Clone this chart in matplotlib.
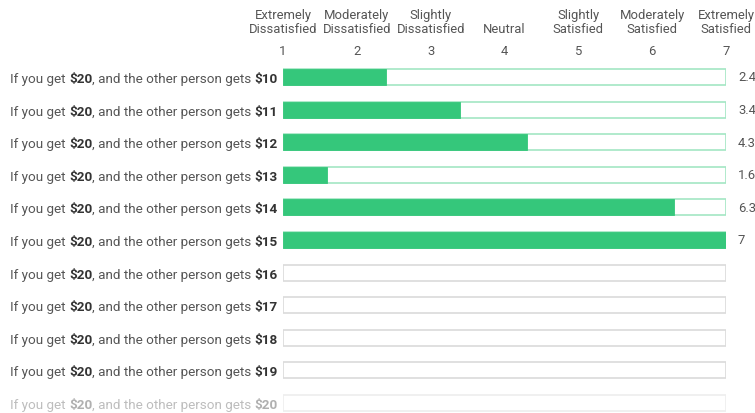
import matplotlib
matplotlib.use("Agg")
import matplotlib.pyplot as plt

# Survey scale and responses
scale_points = [1, 2, 3, 4, 5, 6, 7]
scale_labels = ["Extremely\nDissatisfied", "Moderately\nDissatisfied", "Slightly\nDissatisfied",
                "Neutral", "Slightly\nSatisfied", "Moderately\nSatisfied", "Extremely\nSatisfied"]
your_amount = ["$20"] * 11
other_amount = ["$10", "$11", "$12", "$13", "$14", "$15", "$16", "$17", "$18", "$19", "$20"]
ratings = [2.4, 3.4, 4.3, 1.6, 6.3, 7, None, None, None, None, None]

GREEN = "#35c77b"
GREEN_EDGE = "#a3e6c3"
GREY_EDGE = "#dadada"
TEXT = "#555555"
DARK = "#333333"

plt.rcParams["font.family"] = ["Roboto", "DejaVu Sans"]
fs_row = 9.7
fs_head = 9.4

W, H = 755, 414
fig = plt.figure(figsize=(W / 100, H / 100), dpi=100)
x0_px, x1_px = 283, 726
ax = fig.add_axes([x0_px / W, 0, (x1_px - x0_px) / W, 1])
ax.set_xlim(1, 7)
row0_px, step_px = 78, 32.6
ax.set_ylim((H - row0_px) / step_px, -row0_px / step_px)
ax.axis("off")

px = (7 - 1) / (x1_px - x0_px)   # data units per pixel in x
py = 1 / step_px                 # data units per pixel in y

def xd(p):
    return 1 + (p - x0_px) * px

def yd(p):
    return (p - row0_px) * py

# Header: scale labels and numbers
for v, lab in zip(scale_points, scale_labels):
    ax.text(v, yd(36), lab, ha="center", va="bottom", fontsize=fs_head, color=TEXT,
            linespacing=1.1, multialignment="center", clip_on=False)
    ax.text(v, yd(52), str(v), ha="center", va="center", fontsize=fs_head, color=TEXT, clip_on=False)

bar_h = 16 * py
n = len(other_amount)
for i, (you, other, r) in enumerate(zip(your_amount, other_amount, ratings)):
    faded = i == n - 1
    tcol = "#bdbdbd" if faded else TEXT
    bcol = "#b0b0b0" if faded else DARK
    answered = r is not None
    edge = GREEN_EDGE if answered else ("#eeeeee" if faded else GREY_EDGE)
    # outline of the full scale
    ax.barh(i, 6, left=1, height=bar_h, facecolor="white", edgecolor=edge, linewidth=1.2)
    if answered:
        ax.barh(i, r - 1, left=1, height=bar_h, facecolor=GREEN, edgecolor=GREEN, linewidth=0.6)
        ax.text(xd(738), i, f"{r:g}", ha="left", va="center", fontsize=fs_head, color=TEXT, clip_on=False)
    # row label built from plain and bold pieces
    pieces = [("If you get ", "normal", tcol), (you.replace("$", r"\$"), "bold", bcol),
              (", and the other person gets ", "normal", tcol),
              (other.replace("$", r"\$"), "bold", bcol)]
    prev = ax.text(xd(10), i, pieces[0][0], ha="left", va="center_baseline", fontsize=fs_row,
                   fontweight=pieces[0][1], color=pieces[0][2], clip_on=False)
    for txt, wt, col in pieces[1:]:
        prev = ax.annotate(txt, xy=(1, 0), xycoords=prev, ha="left", va="bottom",
                           fontsize=fs_row, fontweight=wt, color=col, annotation_clip=False)

fig.savefig("out.png", dpi=100, facecolor="white")
